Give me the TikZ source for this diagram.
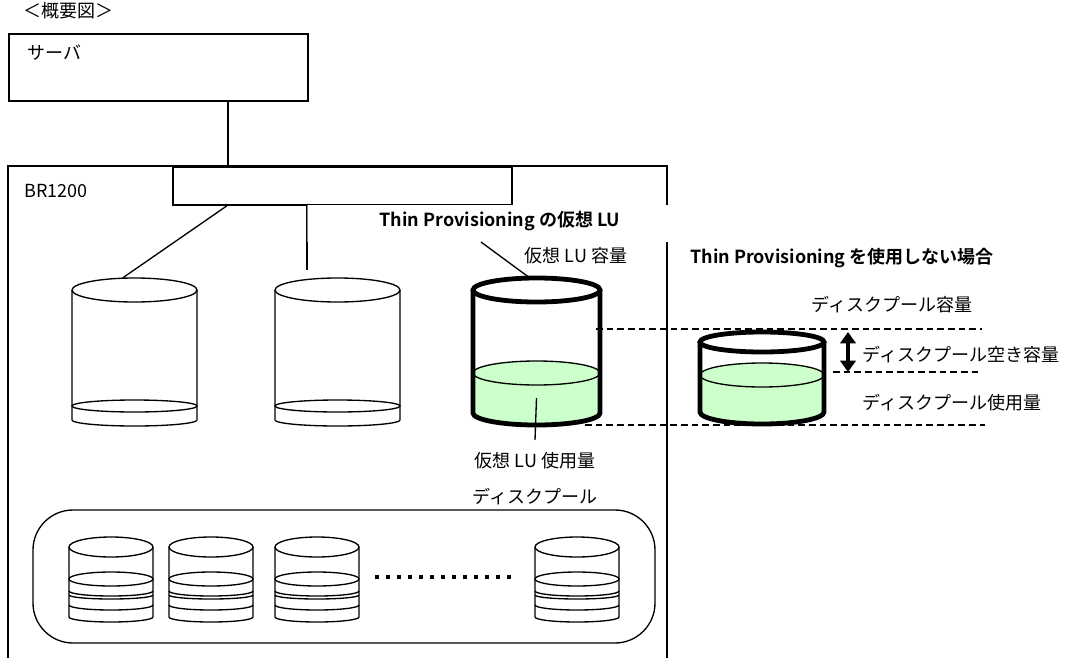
\documentclass[tikz,border=0pt]{standalone}
\usepackage{fontspec}
\setmainfont{Noto Sans CJK JP}[BoldFont={Noto Sans CJK JP Bold}]
\usetikzlibrary{arrows.meta,calc}
\definecolor{liq}{RGB}{204,255,204}
\tikzset{
  boxline/.style={line width=1.3pt},
  cylline/.style={line width=1pt},
  tankline/.style={line width=3.6pt},
  dashln/.style={line width=1.1pt, dash pattern=on 5pt off 3pt},
  txt/.style={font=\fontsize{13.5}{15}\selectfont, inner sep=0pt},
  btxt/.style={font=\fontsize{13.5}{15}\selectfont\bfseries, inner sep=0pt},
  pics/plaincyl/.style={code={
    \fill[white] (-62.5,0) -- (-62.5,130) arc[start angle=180,end angle=0,x radius=62.5,y radius=6] -- (62.5,0) -- cycle;
    \draw[cylline] (-62.5,0) -- (-62.5,130) arc[start angle=180,end angle=0,x radius=62.5,y radius=6] -- (62.5,0);
    \draw[cylline,fill=white] (0,0) ellipse[x radius=62.5,y radius=12];
    \draw[cylline] (0,116) ellipse[x radius=62.5,y radius=6];
    \coordinate (-top) at (0,-12);
  }},
  pics/tank/.style n args={4}{code={
    \fill[liq] (-#1,#3) arc[start angle=180,end angle=360,x radius=#1,y radius=12] -- (#1,#4) arc[start angle=0,end angle=180,x radius=#1,y radius=12] -- cycle;
    \draw[cylline] (0,#3) ellipse[x radius=#1,y radius=12];
    \draw[tankline] (-#1,0) -- (-#1,#4) arc[start angle=180,end angle=0,x radius=#1,y radius=12] -- (#1,0);
    \draw[tankline] (0,0) ellipse[x radius=#1,y radius=#2];
    \coordinate (-top) at (0,-#2);
    \coordinate (-liq) at (0,#3+25);
  }},
  pics/pooldisk/.style={code={
    \draw[cylline] (-42,0) -- (-42,70) arc[start angle=180,end angle=0,x radius=42,y radius=5] -- (42,0);
    \draw[cylline] (0,0) ellipse[x radius=42,y radius=10];
    \draw[cylline] (0,32) ellipse[x radius=42,y radius=7];
    \draw[cylline] (-42,44) arc[start angle=180,end angle=0,x radius=42,y radius=5];
    \draw[cylline] (-42,48) arc[start angle=180,end angle=0,x radius=42,y radius=4];
    \draw[cylline] (-42,58) arc[start angle=180,end angle=0,x radius=42,y radius=5];
  }},
}
\begin{document}
\begin{tikzpicture}[x=0.75pt,y=-0.75pt]
\clip (0,0) rectangle (1071,657);
\fill[white] (0,0) rectangle (1071,657);

% title
\node[txt,anchor=west] (title) at (23,11) {＜概要図＞};

% server
\node[boxline,draw,minimum width=299*0.75pt,minimum height=67*0.75pt,anchor=north west,inner sep=0pt] (srv) at (8,33) {};
\node[txt,anchor=west] (srvtxt) at (27,53) {サーバ};

% BR1200 box
\draw[boxline] (8,720) -- (8,166) -- (667,166) -- (667,720);
\coordinate (brtop) at (228,166);
\node[txt,anchor=west] (brtxt) at (24,191) {BR1200};

% interface box
\node[boxline,draw,minimum width=339*0.75pt,minimum height=38*0.75pt,anchor=north west,inner sep=0pt] (ifbox) at (172,166) {};

\draw[boxline] (228,0 |- srv.south) -- (brtop);

% cylinders
\pic (c1) at (134.5,290) {plaincyl};
\pic (c2) at (337.5,290) {plaincyl};
\pic (c3) at (536.5,290) {tank={63.5}{12}{83}{123}};
\pic (c4) at (762,342) {tank={62}{10}{33}{70}};

% connectors from interface box
\draw[cylline] (227,0 |- ifbox.south) -- ($(c1-top)+(-12,0)$);
\coordinate (c2link) at (307,270);
\draw[cylline] (307,0 |- ifbox.south) -- (c2link);

% label overlay box
\fill[white] (307,205) rectangle (690,242);
\draw[gray,line width=0.5pt] (307,205) -- (307,242);
\node[btxt] (tplabel) at (500,221) {Thin Provisioning の仮想 LU};
\coordinate (tpl) at (481,242);
\draw[cylline] (tpl) -- ($(c3-top)+(-8,-1)$);

% labels around tank 3
\node[txt] (cap) at (576,256) {仮想 LU 容量};
\node[txt] (used) at (535,461) {仮想 LU 使用量};
\coordinate (usedlink) at (535,440);
\draw[cylline] (c3-liq) -- (usedlink);

% right side
\node[btxt,anchor=west] (notp) at (690,258) {Thin Provisioning を使用しない場合};
\node[txt] (pcap) at (892,305) {ディスクプール容量};
\node[txt,anchor=west] (pfree) at (862,355) {ディスクプール空き容量};
\node[txt,anchor=west] (pused) at (862,403) {ディスクプール使用量};

\coordinate (d1a) at (596,329); \coordinate (d1b) at (982,329);
\coordinate (d2a) at (833,372); \coordinate (d2b) at (982,372);
\coordinate (d3a) at (585,425); \coordinate (d3b) at (985,425);
\draw[dashln] (d1a) -- (d1b);
\draw[dashln] (d2a) -- (d2b);
\draw[dashln] (d3a) -- (d3b);
\coordinate (arA) at (848,332); \coordinate (arB) at (848,372);
\draw[line width=2.4pt,{Triangle[width=11.5pt,length=8.5pt]}-{Triangle[width=11.5pt,length=8.5pt]}] (arA) -- (arB);

% disk pool
\node[txt] (pooltxt) at (535,497) {ディスクプール};
\draw[cylline,rounded corners=30pt] (33,510) rectangle (655,643);
\pic (p1) at (111,547) {pooldisk};
\pic (p2) at (211,547) {pooldisk};
\pic (p3) at (317,547) {pooldisk};
\pic (p4) at (577,547) {pooldisk};
\draw[line width=3pt,dash pattern=on 3pt off 5.25pt] (375,577) -- (511,577);
\end{tikzpicture}
\end{document}
